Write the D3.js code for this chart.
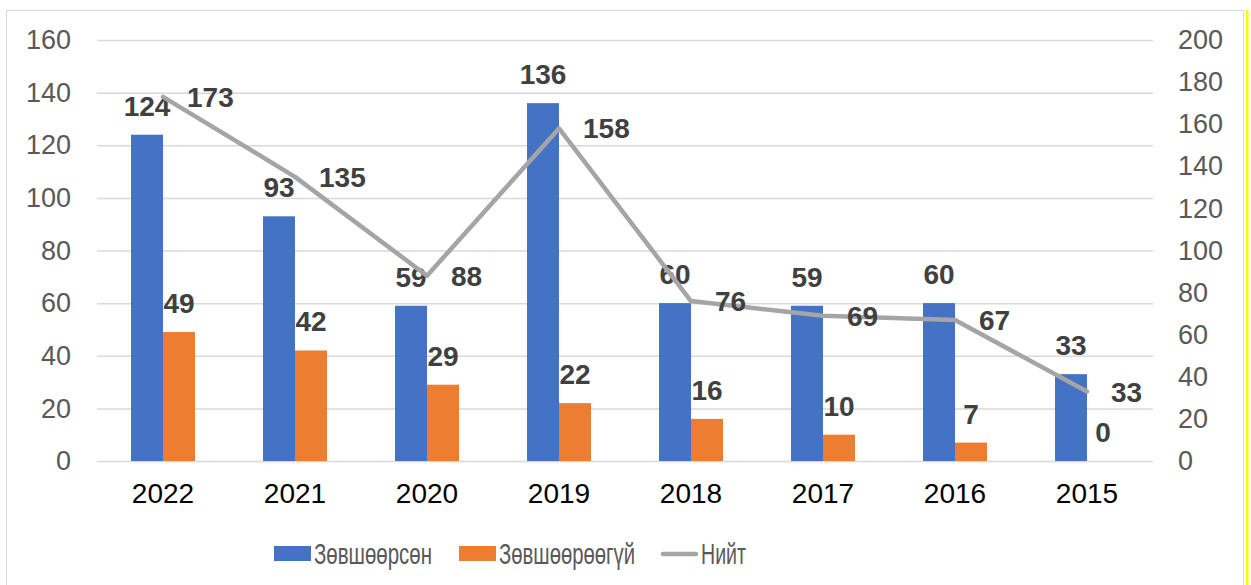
<!DOCTYPE html>
<html>
<head>
<meta charset="utf-8">
<script src="https://cdn.jsdelivr.net/npm/d3@7"></script>
<style>
  body { margin: 0; background: #fff; }
  svg { display: block; font-family: "Liberation Sans", Arial, sans-serif; }
</style>
</head>
<body>
<div id="chart"></div>
<script>
// data
const years = ["2022", "2021", "2020", "2019", "2018", "2017", "2016", "2015"];
const approved = [124, 93, 59, 136, 60, 59, 60, 33];
const rejected = [49, 42, 29, 22, 16, 10, 7, 0];
const total = [173, 135, 88, 158, 76, 69, 67, 33];
const seriesNames = ["Зөвшөөрсөн", "Зөвшөөрөөгүй", "Нийт"];
const leftTicks = [0, 20, 40, 60, 80, 100, 120, 140, 160];
const rightTicks = [0, 20, 40, 60, 80, 100, 120, 140, 160, 180, 200];

const width = 1251, height = 585;
const margin = { top: 40, right: 98, bottom: 124, left: 97 };
const colors = ["#4472c4", "#ed7d31", "#a5a5a5"];

const svg = d3.select("#chart").append("svg")
  .attr("width", width).attr("height", height)
  .attr("viewBox", [0, 0, width, height]);

// chart frame
svg.append("rect")
  .attr("x", 6.5).attr("y", 10.5)
  .attr("width", 1237).attr("height", 600)
  .attr("fill", "#fff").attr("stroke", "#d9d9d9");
svg.append("rect")
  .attr("x", 1246).attr("y", 10)
  .attr("width", 2.5).attr("height", height)
  .attr("fill", "#ffff00");

const x = d3.scaleBand().domain(years)
  .range([margin.left, width - margin.right]);
const x1 = d3.scaleBand().domain([0, 1]).range([-32, 32]);
const yL = d3.scaleLinear().domain([0, 160]).range([height - margin.bottom, margin.top]);
const yR = d3.scaleLinear().domain([0, 200]).range([height - margin.bottom, margin.top]);

// gridlines + left axis
svg.append("g")
  .attr("transform", `translate(${margin.left},0)`)
  .call(d3.axisLeft(yL).tickValues(leftTicks)
    .tickSize(-(width - margin.left - margin.right)).tickPadding(26))
  .call(g => g.select(".domain").remove())
  .call(g => g.selectAll(".tick line").attr("stroke", "#d9d9d9").attr("stroke-width", 1.5))
  .call(g => g.selectAll(".tick text").attr("fill", "#595959")
    .attr("font-size", 27).attr("font-family", "Liberation Sans, Arial, sans-serif"));

// right axis
svg.append("g")
  .attr("transform", `translate(${width - margin.right},0)`)
  .call(d3.axisRight(yR).tickValues(rightTicks).tickSize(0).tickPadding(25))
  .call(g => g.select(".domain").remove())
  .call(g => g.selectAll(".tick text").attr("fill", "#595959")
    .attr("font-size", 27).attr("font-family", "Liberation Sans, Arial, sans-serif"));

// x axis labels
svg.append("g")
  .attr("transform", `translate(0,${height - margin.bottom})`)
  .call(d3.axisBottom(x).tickSize(0).tickPadding(22))
  .call(g => g.select(".domain").remove())
  .call(g => g.selectAll(".tick text").attr("fill", "#000")
    .attr("font-size", 28).attr("font-family", "Liberation Sans, Arial, sans-serif"));

const cx = d => x(d) + x.bandwidth() / 2;

// bars
[approved, rejected].forEach((vals, si) => {
  const g = svg.append("g");
  g.selectAll("rect")
    .data(years)
    .join("rect")
    .attr("x", (d) => cx(d) + x1(si))
    .attr("y", (d, i) => yL(vals[i]))
    .attr("width", x1.bandwidth())
    .attr("height", (d, i) => yL(0) - yL(vals[i]))
    .attr("fill", colors[si]);
  g.selectAll("text")
    .data(years)
    .join("text")
    .attr("x", d => cx(d) + x1(si) + x1.bandwidth() / 2)
    .attr("y", (d, i) => yL(vals[i]) - 19)
    .attr("text-anchor", "middle")
    .attr("font-size", 28).attr("font-weight", "bold")
    .attr("fill", "#404040")
    .text((d, i) => vals[i]);
});

// total line
const line = d3.line()
  .x((d, i) => cx(years[i]))
  .y(d => yR(d));
svg.append("path")
  .datum(total)
  .attr("d", line)
  .attr("fill", "none")
  .attr("stroke", colors[2])
  .attr("stroke-width", 4.5)
  .attr("stroke-linejoin", "round")
  .attr("stroke-linecap", "round");
svg.append("g").selectAll("text")
  .data(total)
  .join("text")
  .attr("x", (d, i) => cx(years[i]) + 24)
  .attr("y", d => yR(d))
  .attr("dy", "0.36em")
  .attr("font-size", 28).attr("font-weight", "bold")
  .attr("fill", "#404040")
  .text(d => d);

// legend (text in the picture is a condensed face, so squeeze it)
const legendX = [274, 459, 661];
const legendTextW = [118, 136, 45];
const legendY = 554;
const leg = svg.append("g");
seriesNames.forEach((name, i) => {
  if (i < 2) {
    leg.append("rect")
      .attr("x", legendX[i]).attr("y", legendY - 8)
      .attr("width", 37).attr("height", 15)
      .attr("fill", colors[i]);
  } else {
    leg.append("line")
      .attr("x1", legendX[i] + 2).attr("x2", legendX[i] + 35)
      .attr("y1", legendY).attr("y2", legendY)
      .attr("stroke", colors[i]).attr("stroke-width", 4.5)
      .attr("stroke-linecap", "round");
  }
  leg.append("text")
    .attr("x", legendX[i] + 40)
    .attr("y", legendY)
    .attr("dy", "0.36em")
    .attr("font-size", 29)
    .attr("fill", "#595959")
    .attr("textLength", legendTextW[i])
    .attr("lengthAdjust", "spacingAndGlyphs")
    .text(name);
});
</script>
</body>
</html>
